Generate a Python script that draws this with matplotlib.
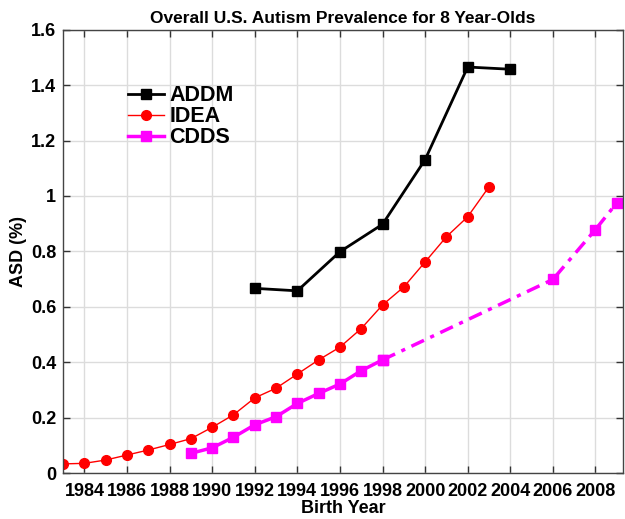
import numpy as np
import matplotlib
matplotlib.use("Agg")
import matplotlib.pyplot as plt

plt.rcParams['font.family'] = ['Liberation Sans', 'DejaVu Sans']
plt.rcParams['font.weight'] = 'bold'

# ADDM surveillance estimates
addm_years = [1992, 1994, 1996, 1998, 2000, 2002, 2004]
addm_vals = [0.667, 0.658, 0.799, 0.898, 1.131, 1.465, 1.457]

# IDEA special education counts
idea_years = list(range(1983, 2004))
idea_vals = [0.034, 0.036, 0.048, 0.066, 0.084, 0.104, 0.125, 0.166, 0.211,
             0.272, 0.307, 0.358, 0.409, 0.455, 0.522, 0.607, 0.672, 0.762,
             0.853, 0.925, 1.033]

# CDDS California caseload
cdds_years = [1989, 1990, 1991, 1992, 1993, 1994, 1995, 1996, 1997, 1998]
cdds_vals = [0.072, 0.092, 0.130, 0.175, 0.204, 0.252, 0.288, 0.322, 0.370, 0.409]
cdds_late_years = [1998, 2006, 2008, 2009]
cdds_late_vals = [0.409, 0.699, 0.879, 0.975]

fig = plt.figure(figsize=(6.25, 5.19), dpi=100)
ax = fig.add_axes([0.101, 0.088, 0.896, 0.855])

ax.plot(addm_years, addm_vals, '-s', color='black', lw=2, ms=7, label='ADDM')
ax.plot(idea_years, idea_vals, '-o', color='red', lw=1, ms=7, label='IDEA')
ax.plot(cdds_years, cdds_vals, '-s', color='magenta', lw=2.5, ms=7.5, label='CDDS')
ax.plot(cdds_late_years, cdds_late_vals, 's', color='magenta', ls=(0, (4, 2, 1.2, 2)),
        lw=2.5, ms=7.5)

ax.set_xlim(1983, 2009.3)
ax.set_ylim(0, 1.6)
ax.set_xticks(np.arange(1984, 2009, 2))
ax.set_yticks([0, 0.2, 0.4, 0.6, 0.8, 1, 1.2, 1.4, 1.6])
ax.set_yticklabels(['0', '0.2', '0.4', '0.6', '0.8', '1', '1.2', '1.4', '1.6'])
ax.grid(True, color='#dcdcdc', lw=1)
ax.set_axisbelow(True)
ax.tick_params(direction='in', top=True, right=True, length=5, width=1,
               labelsize=13, color='#333333')
ax.tick_params(axis='x', pad=7)
ax.tick_params(axis='y', pad=5)
for lab in ax.get_xticklabels() + ax.get_yticklabels():
    lab.set_fontweight('bold')
for s in ax.spines.values():
    s.set_color('#444444')
    s.set_linewidth(1)

ax.set_title('Overall U.S. Autism Prevalence for 8 Year-Olds', fontsize=12.5,
             fontweight='bold', pad=5)
ax.set_xlabel('Birth Year', fontsize=13, fontweight='bold', labelpad=0)
ax.set_ylabel('ASD (%)', fontsize=13, fontweight='bold', labelpad=3)

ax.legend(loc='upper left', bbox_to_anchor=(0.115, 0.875), frameon=False,
          prop={'weight': 'bold', 'size': 15.5}, handlelength=1.7,
          handletextpad=0.25, labelspacing=0.0, borderpad=0, borderaxespad=0)

fig.savefig('out.png', dpi=100)
